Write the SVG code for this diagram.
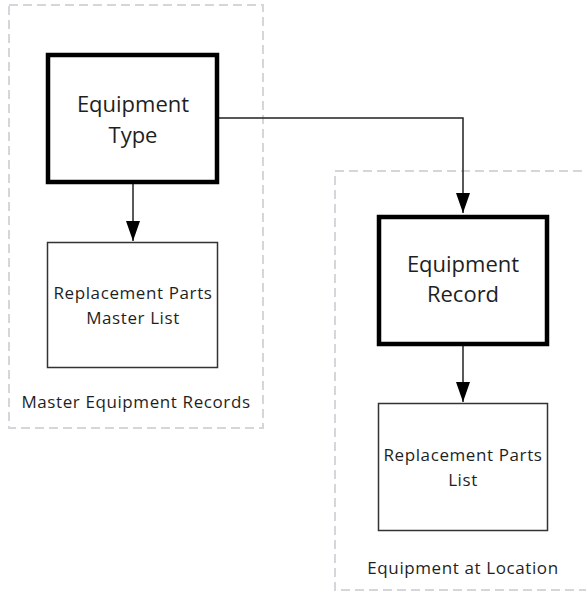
<svg xmlns="http://www.w3.org/2000/svg" width="586" height="593" viewBox="0 0 586 593">
<style>
.grp{fill:none;stroke:#d4d6da;stroke-width:2;stroke-dasharray:9 5}
.thick{fill:#fff;stroke:#000;stroke-width:4.5}
.thin{fill:#fff;stroke:#333;stroke-width:1.5}
.big{font-family:"Open Sans","Liberation Sans",sans-serif;font-size:22px;fill:#1f1f1f;text-anchor:middle}
.small{font-family:"Open Sans","Liberation Sans",sans-serif;font-size:17px;letter-spacing:0.6px;fill:#1f1f1f;text-anchor:middle}
.conn{fill:none;stroke:#222;stroke-width:1.5}
</style>
<defs>
<marker id="arr" viewBox="0 0 20 14" refX="20" refY="7" markerWidth="20" markerHeight="14" markerUnits="userSpaceOnUse" orient="auto">
<path d="M0,0 L20,7 L0,14 z" fill="#000"/>
</marker>
</defs>
<g id="group-master">
<rect class="grp" x="9" y="5" width="254" height="423"/>
<text class="small" x="136" y="408">Master Equipment Records</text>
</g>
<g id="group-location">
<rect class="grp" x="335" y="171" width="260" height="419"/>
<text class="small" x="463" y="574">Equipment at Location</text>
</g>
<g id="connectors">
<path class="conn" d="M219,118 H463 V213" marker-end="url(#arr)"/>
<path class="conn" d="M133,183 V241" marker-end="url(#arr)"/>
<path class="conn" d="M463,346 V402" marker-end="url(#arr)"/>
</g>
<g id="equipment-type">
<rect class="thick" x="48" y="55" width="169" height="127"/>
<text class="big" x="133" y="112">Equipment</text>
<text class="big" x="133" y="143">Type</text>
</g>
<g id="replacement-parts-master-list">
<rect class="thin" x="47.5" y="242.5" width="170" height="125"/>
<text class="small" x="133" y="299">Replacement Parts</text>
<text class="small" x="133" y="324">Master List</text>
</g>
<g id="equipment-record">
<rect class="thick" x="379" y="217" width="168" height="127"/>
<text class="big" x="463" y="272">Equipment</text>
<text class="big" x="463" y="302">Record</text>
</g>
<g id="replacement-parts-list">
<rect class="thin" x="378.5" y="403.5" width="169" height="127"/>
<text class="small" x="463" y="461">Replacement Parts</text>
<text class="small" x="463" y="486">List</text>
</g>
</svg>
